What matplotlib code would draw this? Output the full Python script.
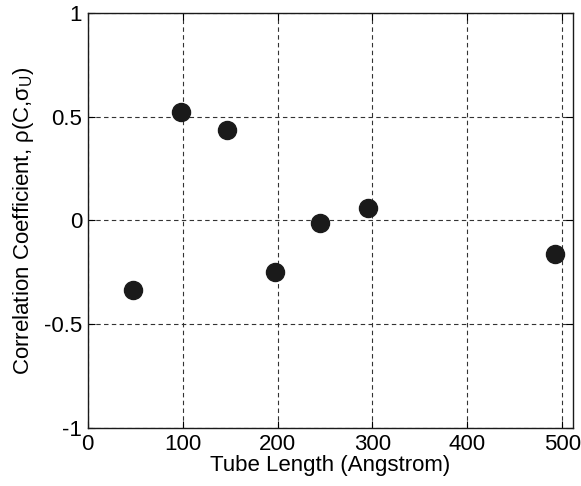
import matplotlib
matplotlib.use("Agg")
import matplotlib.pyplot as plt

tube_length = [48, 98, 147, 197, 245, 295, 492]
corr_coef = [-0.337, 0.525, 0.438, -0.246, -0.013, 0.061, -0.16]
xticks = [0, 100, 200, 300, 400, 500]
yticks = [-1, -0.5, 0, 0.5, 1]
yticklabels = ["-1", "-0.5", "0", "0.5", "1"]

plt.rcParams['font.family'] = ['Liberation Sans', 'DejaVu Sans']
plt.rcParams['mathtext.fontset'] = 'custom'
plt.rcParams['mathtext.rm'] = 'Liberation Sans'
plt.rcParams['mathtext.it'] = 'Liberation Sans'

fig = plt.figure(figsize=(5.81, 4.86), dpi=100)
ax = fig.add_axes([0.151, 0.1193, 0.8347, 0.854])
ax.plot(tube_length, corr_coef, 'o', color='#1a1a1a', markersize=13, zorder=3)
ax.set_xlim(0, 511)
ax.set_ylim(-1, 1)
ax.set_xticks(xticks)
ax.set_yticks(yticks)
ax.set_yticklabels(yticklabels)
ax.grid(True, linestyle=(0, (4, 3)), color='#333333', linewidth=0.8)
ax.tick_params(direction='in', top=True, right=True, labelsize=16, length=5, width=0.8, pad=4)
for s in ax.spines.values():
    s.set_linewidth(1.0)
    s.set_color('#1a1a1a')
ax.set_xlabel('Tube Length (Angstrom)', fontsize=16, labelpad=0)
ax.set_ylabel(r'Correlation Coefficient, ρ(C,σ$_\mathregular{U}$)', fontsize=16, labelpad=6)
fig.savefig('out.png', dpi=100)
